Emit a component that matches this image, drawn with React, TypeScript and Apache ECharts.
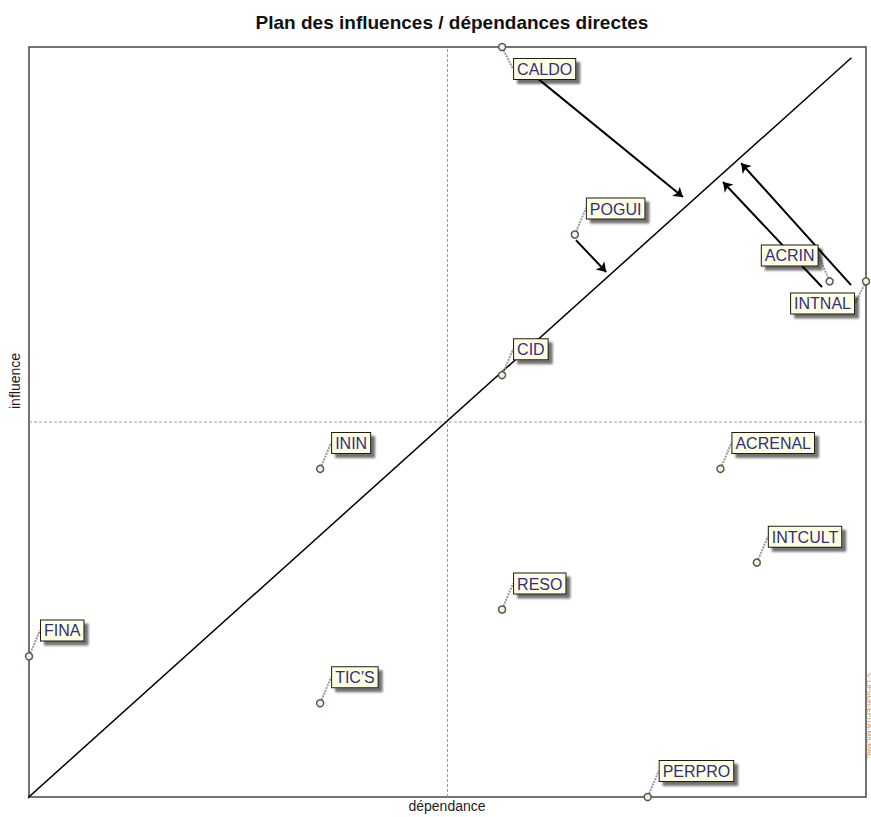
import React, { useEffect, useRef } from "react";
import * as echarts from "echarts";

// Variables of the MICMAC direct influence / dependence map
const variables = ["CALDO", "POGUI", "ACRIN", "INTNAL", "CID", "ININ", "ACRENAL", "INTCULT", "RESO", "FINA", "TIC'S", "PERPRO"];
const dependance = [13, 15, 22, 23, 13, 8, 19, 20, 13, 0, 8, 17];
const influence = [16, 12, 11, 11, 9, 7, 7, 5, 4, 3, 2, 0];
// label side relative to point: horizontal (+1 right / -1 left), vertical (-1 above / +1 below)
const labelSideX = [1, 1, -1, -1, 1, 1, 1, 1, 1, 1, 1, 1];
const labelSideY = [1, -1, -1, 1, -1, -1, -1, -1, -1, -1, -1, -1];

const xRange = [0, 23];
const yRange = [0, 16];
const xMean = 11.5;
const yMean = 8;

const diagonal = [[-0.12, -0.08], [22.6, 15.77]];
const arrowFrom = [[13.36, 15.72], [15.03, 11.88], [21.79, 10.88], [22.59, 10.92]];
const arrowTo = [[17.97, 12.8], [15.86, 11.2], [19.07, 13.12], [19.57, 13.52]];

const FONT = "Arial, 'Liberation Sans', Helvetica, sans-serif";

export default function App() {
  const ref = useRef<HTMLDivElement>(null);
  useEffect(() => {
    if (!ref.current) return;
    const chart = echarts.init(ref.current, null, { renderer: "svg" });
    const option: any = {
      animation: false,
      backgroundColor: "#ffffff",
      title: {
        text: "Plan des influences / dépendances directes",
        left: 447,
        top: 8,
        textAlign: "center",
        textStyle: { fontFamily: FONT, fontSize: 19, fontWeight: "bold", color: "#111" },
      },
      grid: {
        left: 29,
        top: 47,
        right: 5,
        bottom: 20,
        show: true,
        borderColor: "#454545",
        borderWidth: 1.5,
        backgroundColor: "transparent",
        outerBoundsMode: "none",
      },
      xAxis: {
        type: "value",
        min: xRange[0],
        max: xRange[1],
        axisLine: { show: false },
        axisTick: { show: false },
        axisLabel: { show: false },
        splitLine: { show: false },
      },
      yAxis: {
        type: "value",
        min: yRange[0],
        max: yRange[1],
        axisLine: { show: false },
        axisTick: { show: false },
        axisLabel: { show: false },
        splitLine: { show: false },
      },
      graphic: [
        {
          type: "text",
          x: 447,
          y: 806,
          style: { text: "dépendance", fontFamily: FONT, fontSize: 14, fill: "#222", align: "center", verticalAlign: "middle" },
        },
        {
          type: "text",
          x: 15,
          y: 381,
          rotation: Math.PI / 2,
          style: { text: "influence", fontFamily: FONT, fontSize: 14, fill: "#2a1515", align: "center", verticalAlign: "middle" },
        },
        {
          type: "text",
          x: 869,
          y: 716,
          rotation: -Math.PI / 2,
          style: { text: "© LIPSOR-EPITA-MICMAC", fontFamily: FONT, fontSize: 7, fill: "#d8904a", align: "center", verticalAlign: "middle" },
        },
      ],
      series: [
        {
          type: "line",
          data: [[xMean, yRange[0]], [xMean, yRange[1]]],
          symbol: "none",
          lineStyle: { color: "#9a9a9a", width: 1, type: [3, 2] },
          z: 1,
        },
        {
          type: "line",
          data: [[xRange[0], yMean], [xRange[1], yMean]],
          symbol: "none",
          lineStyle: { color: "#9a9a9a", width: 1, type: [3, 2] },
          z: 1,
        },
        {
          type: "line",
          data: diagonal,
          symbol: "none",
          clip: false,
          lineStyle: { color: "#000", width: 1.5 },
          z: 2,
        },
        {
          type: "lines",
          coordinateSystem: "cartesian2d",
          data: arrowFrom.map((f, i) => ({ coords: [f, arrowTo[i]] })),
          symbol: ["none", "arrow"],
          symbolSize: [0, 9],
          lineStyle: { color: "#000", width: 2, opacity: 1 },
          z: 3,
        },
        {
          type: "scatter",
          clip: false,
          data: variables.map((n, i) => ({ name: n, value: [dependance[i], influence[i]] })),
          symbol: "circle",
          symbolSize: 7,
          itemStyle: {
            color: "#f4f4d8",
            borderColor: "#555",
            borderWidth: 1.5,
            opacity: 1,
          },
          z: 4,
          label: {
            show: true,
            formatter: "{b}",
            fontFamily: FONT,
            fontSize: 16,
            lineHeight: 17,
            color: "#2e2e8a",
            backgroundColor: "#ffffe1",
            borderColor: "#1a1a1a",
            borderWidth: 1,
            padding: [2, 3, 1, 3],
            shadowColor: "rgba(0,0,0,0.55)",
            shadowOffsetX: 4,
            shadowOffsetY: 4,
            shadowBlur: 2,
          },
          labelLayout: (p: any) => {
            const r = p.rect;
            const cx = r.x + r.width / 2;
            const cy = r.y + r.height / 2;
            const sx = labelSideX[p.dataIndex];
            const sy = labelSideY[p.dataIndex];
            return {
              x: cx + sx * 12,
              y: cy + (sy < 0 ? -16 : 12),
              align: sx > 0 ? "left" : "right",
              verticalAlign: sy < 0 ? "bottom" : "top",
            };
          },
          labelLine: {
            show: true,
            lineStyle: { color: "#9a9a9a", width: 2, type: [2, 1] },
          },
        },
      ],
    };
    chart.setOption(option);
    return () => chart.dispose();
  }, []);
  return (
    <div
      ref={ref}
      style={{ position: "absolute", left: 0, top: 0, width: 871, height: 817 }}
    />
  );
}
